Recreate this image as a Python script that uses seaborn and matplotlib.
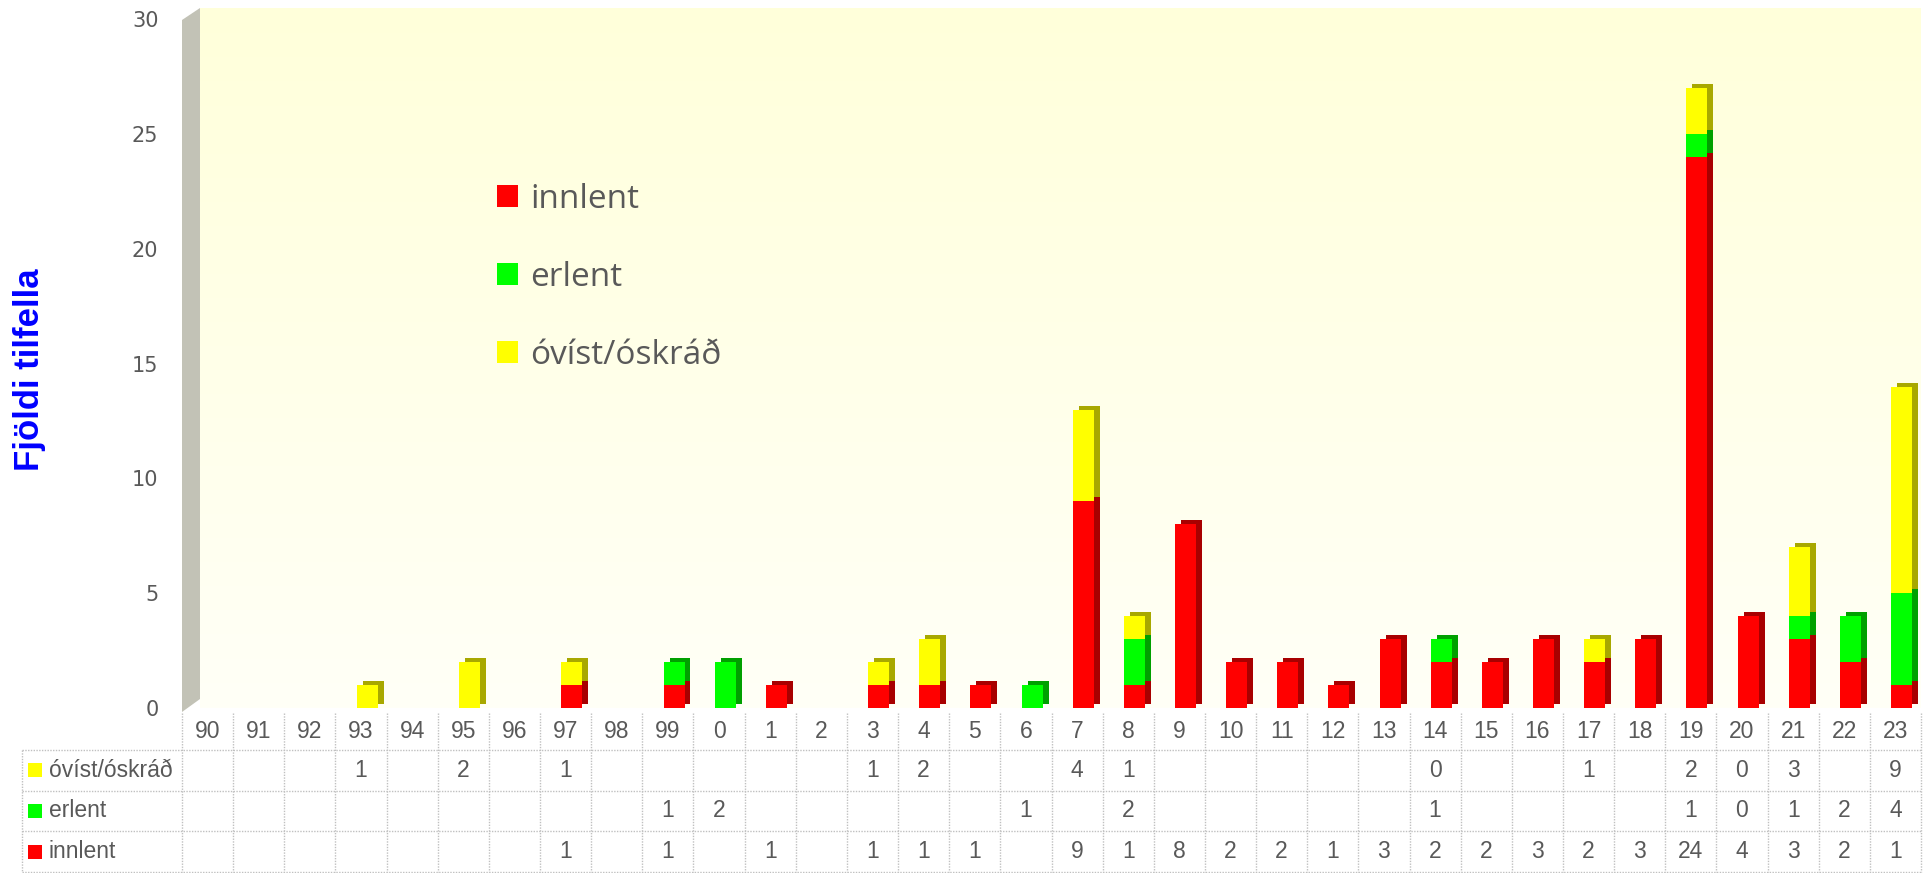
import numpy as np
import pandas as pd
import matplotlib
matplotlib.use("Agg")
import matplotlib.pyplot as plt
import seaborn as sns
from matplotlib import patheffects as pe
from matplotlib.patches import Patch, Rectangle, Polygon
from matplotlib import font_manager as fm

# ---------------- data ----------------
categories = ["90", "91", "92", "93", "94", "95", "96", "97", "98", "99",
              "0", "1", "2", "3", "4", "5", "6", "7", "8", "9", "10", "11",
              "12", "13", "14", "15", "16", "17", "18", "19", "20", "21",
              "22", "23"]
ovist = [None, None, None, 1, None, 2, None, 1, None, None,
         None, None, None, 1, 2, None, None, 4, 1, None, None, None,
         None, None, 0, None, None, 1, None, 2, 0, 3, None, 9]
erlent = [None, None, None, None, None, None, None, None, None, 1,
          2, None, None, None, None, None, 1, None, 2, None, None, None,
          None, None, 1, None, None, None, None, 1, 0, 1, 2, 4]
innlent = [None, None, None, None, None, None, None, 1, None, 1,
           None, 1, None, 1, 1, 1, None, 9, 1, 8, 2, 2,
           1, 3, 2, 2, 3, 2, 3, 24, 4, 3, 2, 1]
series_names = ["innlent", "erlent", "óvíst/óskráð"]
y_ticks = [0, 5, 10, 15, 20, 25, 30]
y_label = "Fjöldi tilfella"

# ---------------- style ----------------
sns.set_theme(style="white")
plt.rcParams['font.family'] = ['DejaVu Sans']


def has_font(name):
    try:
        fm.findfont(fm.FontProperties(family=name), fallback_to_default=False)
        return True
    except Exception:
        return False


tabfont = 'Liberation Sans' if has_font('Liberation Sans') else 'DejaVu Sans'
legfont = 'Open Sans' if has_font('Open Sans') else 'DejaVu Sans'
boldfont = 'Liberation Sans' if has_font('Liberation Sans') else 'DejaVu Sans'

colors = {"innlent": "#FF0000", "erlent": "#00FF00", "óvíst/óskráð": "#FFFF00"}
dark = {"innlent": "#A80000", "erlent": "#00A000", "óvíst/óskráð": "#A8A800"}
gray_text = "#595959"

W, H = 1931, 873
fig = plt.figure(figsize=(W / 100, H / 100), dpi=100)
fig.patch.set_facecolor("white")


def fx(px):
    return px / W


def fy(py):
    return 1 - py / H


# back wall gradient
bg = fig.add_axes([fx(200), fy(708), fx(1921) - fx(200), fy(8) - fy(708)])
t = np.linspace(0, 1, 256)[:, None, None]
top_c = np.array([255, 255, 218]) / 255
bot_c = np.array([255, 255, 247]) / 255
img = top_c[None, None, :] + (bot_c - top_c)[None, None, :] * t
bg.imshow(img, aspect="auto", interpolation="bilinear")
bg.axis("off")

# left side wall
fig.patches.append(Polygon([(fx(182), fy(20)), (fx(200), fy(8)), (fx(200), fy(699)),
                            (fx(182), fy(712))], closed=True, transform=fig.transFigure,
                           facecolor="#C2C2B6", edgecolor="none"))

# ---------------- bars ----------------
ax = fig.add_axes([fx(182), fy(708), fx(1921) - fx(182), fy(8) - fy(708)])
ax.set_facecolor("none")

inn = np.array([v if v is not None else 0 for v in innlent], float)
erl = np.array([v if v is not None else 0 for v in erlent], float)
ovi = np.array([v if v is not None else 0 for v in ovist], float)

layers = [("innlent", inn, np.zeros_like(inn)),
          ("erlent", erl, inn),
          ("óvíst/óskráð", ovi, inn + erl)]
for name, vals, base in layers:
    df = pd.DataFrame({"ar": categories, "fjoldi": vals})
    sns.barplot(data=df, x="ar", y="fjoldi", order=categories, color=colors[name],
                saturation=1, width=0.41, errorbar=None, bottom=base,
                linewidth=0, ax=ax)
    for p in ax.containers[-1]:
        p.set_path_effects([pe.withSimplePatchShadow(offset=(4.3, 2.9),
                                                     shadow_rgbFace=dark[name],
                                                     alpha=1.0)])

ax.set_xlim(-0.62, 33.38)
ax.set_ylim(0, 30.5)
ax.set_yticks(y_ticks)
ax.set_yticklabels([str(v) for v in y_ticks])
ax.set_xticks([])
ax.set_xlabel("")
ax.set_ylabel("")
ax.tick_params(axis="y", length=0, pad=17, labelsize=15, labelcolor=gray_text)
for s in ax.spines.values():
    s.set_visible(False)

fig.text(fx(30), fy(370), y_label, rotation=90, ha="center", va="center",
         color="#0000FF", fontsize=25, fontweight="bold", family=boldfont)

handles = [Patch(facecolor=colors[n], edgecolor="none", label=n) for n in series_names]
leg = ax.legend(handles=handles, loc="upper left",
                bbox_to_anchor=(fx(497), fy(183)), bbox_transform=fig.transFigure,
                frameon=False, prop={"family": legfont, "size": 24},
                handlelength=0.63, handleheight=0.63, handletextpad=0.36,
                labelspacing=1.35, borderpad=0, borderaxespad=0)
for txt in leg.get_texts():
    txt.set_color(gray_text)

# ---------------- data table ----------------
colw = (1921 - 182) / 34.0


def xd(px):
    return -0.5 + (px - 182) / colw


tab = fig.add_axes([fx(22), fy(872), fx(1921) - fx(22), fy(709) - fy(872)])
x_left = xd(22)
tab.set_xlim(x_left, 33.5)
tab.set_ylim(4, 0)
tab.axis("off")

line_kw = dict(color="#C0C0C0", lw=1, ls=(0, (1, 1)), clip_on=False)
n = len(categories)
for i in range(n + 1):
    tab.plot([i - 0.5, i - 0.5], [0.1, 4], **line_kw)
for yb in [1, 2, 3, 4]:
    tab.plot([x_left, n - 0.5], [yb, yb], **line_kw)
tab.plot([x_left, x_left], [1, 4], **line_kw)

fs_tab = 16.5
for i, c in enumerate(categories):
    tab.text(i, 0.55, c, ha="center", va="center", fontsize=fs_tab,
             color=gray_text, family=tabfont)

rows = [("óvíst/óskráð", ovist, 1.5), ("erlent", erlent, 2.5), ("innlent", innlent, 3.5)]
sq_h = 14 / ((872 - 709) / 4.0)
for name, vals, yc in rows:
    tab.add_patch(Rectangle((xd(28), yc - sq_h / 2), 14 / colw, sq_h,
                            facecolor=colors[name], edgecolor="none", clip_on=False))
    tab.text(xd(49), yc, name, ha="left", va="center", fontsize=fs_tab,
             color=gray_text, family=tabfont)
    for i, v in enumerate(vals):
        if v is not None:
            tab.text(i, yc, str(v), ha="center", va="center", fontsize=fs_tab,
                     color=gray_text, family=tabfont)

fig.savefig("out.png", dpi=100)
